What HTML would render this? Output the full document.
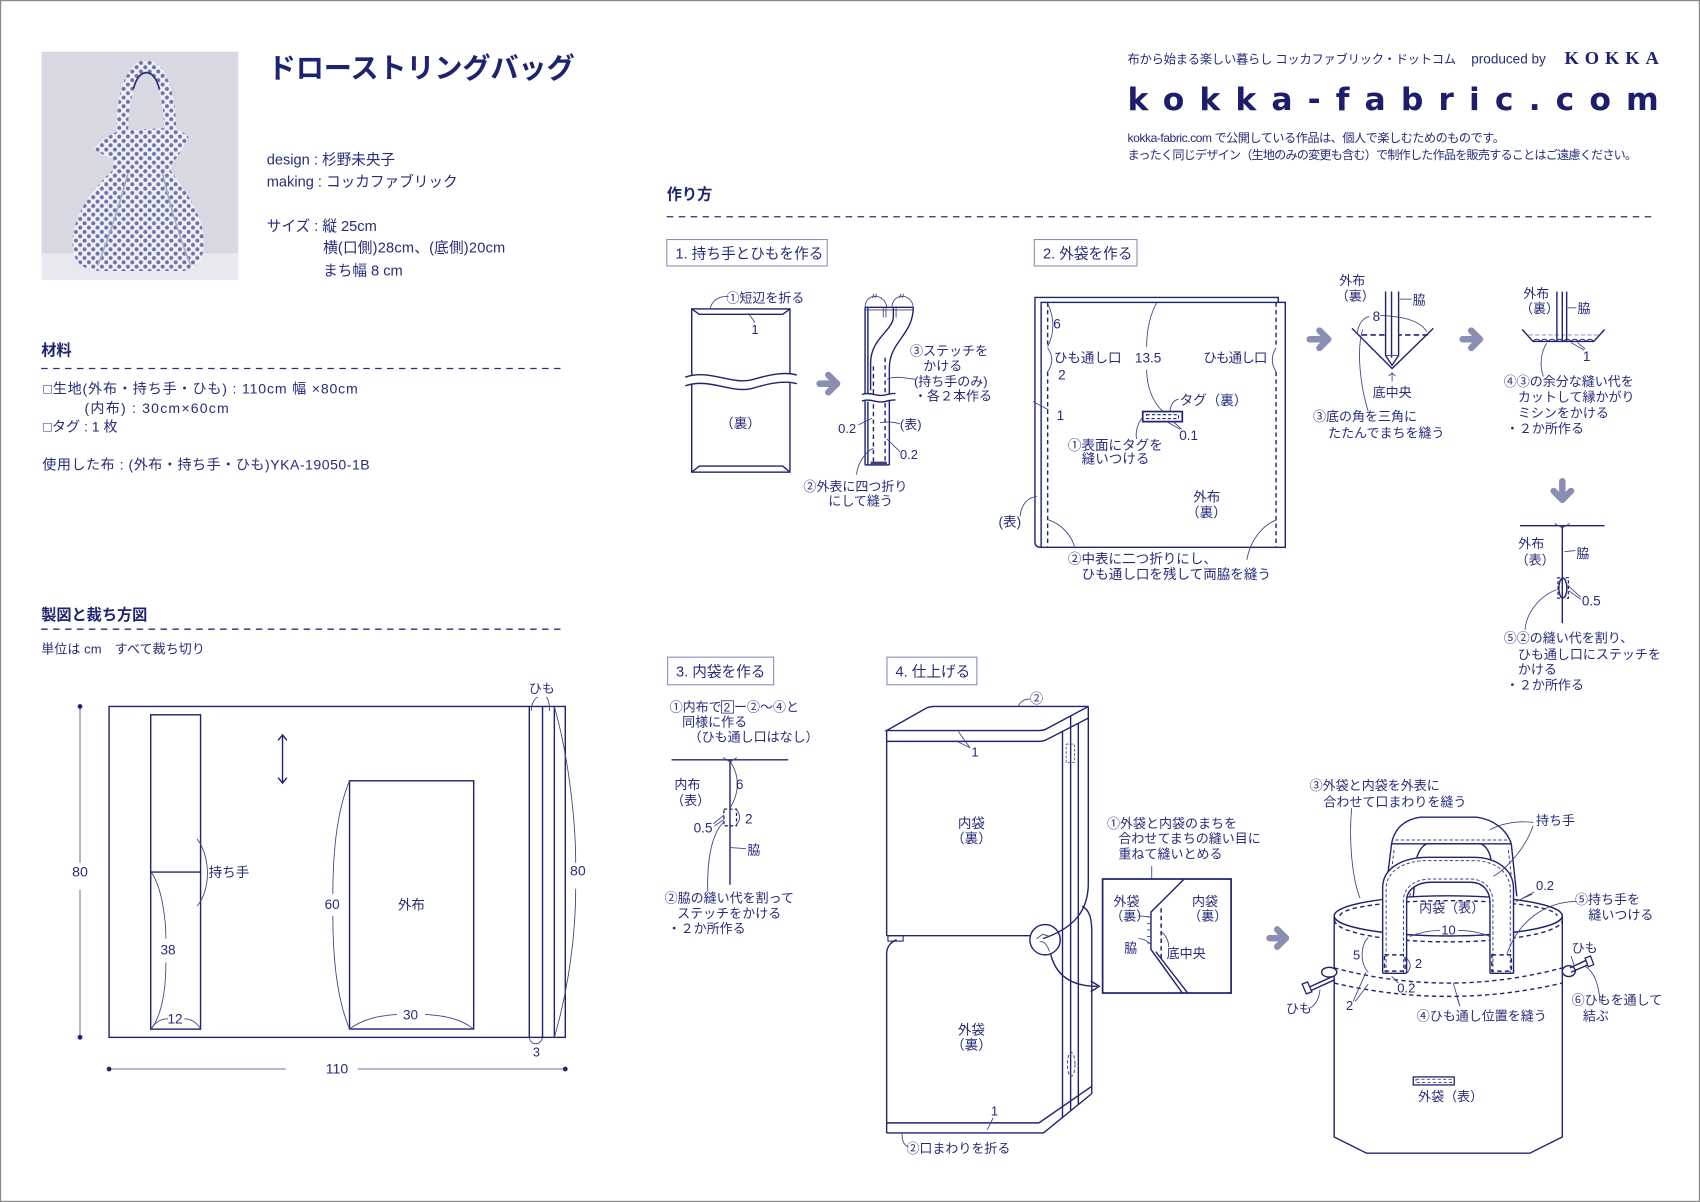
<!DOCTYPE html>
<html><head><meta charset="utf-8"><style>
html,body{margin:0;padding:0;background:#fff;}
svg{display:block;}
text{font-family:"Liberation Sans","Noto Sans CJK JP",sans-serif;fill:#272c7a;}
.b{font-weight:bold;fill:#1d2370;}
.ln{fill:none;stroke:#1f2470;stroke-width:1.3;}
.lt{fill:none;stroke:#3d4285;stroke-width:0.8;}
.ds{fill:none;stroke:#1f2470;stroke-width:1.3;stroke-dasharray:4 3;}
.dt{fill:none;stroke:#3d4285;stroke-width:0.9;stroke-dasharray:3 2;}
.dl{fill:none;stroke:#2a2f7a;stroke-width:1.2;stroke-dasharray:6 5;}
.ar{fill:none;stroke:#8a8eb2;stroke-width:6;stroke-linecap:round;stroke-linejoin:round;}
.bx{fill:#fff;stroke:#8a8eb2;stroke-width:1;}
.w{fill:#fff;}
</style></head><body>
<svg width="1700" height="1202" viewBox="0 0 1568 1109" preserveAspectRatio="none" xmlns="http://www.w3.org/2000/svg">
<defs>
<pattern id="dots" width="8" height="8" patternUnits="userSpaceOnUse">
<rect width="8" height="8" fill="#f0f1f6"/>
<circle cx="2" cy="2" r="1.9" fill="#6e74a9"/>
<circle cx="6" cy="6" r="1.9" fill="#6e74a9"/>
</pattern>
</defs>
<rect x="0.5" y="0.5" width="1567" height="1108" fill="#fff" stroke="#8a8a8a" stroke-width="1.2"/>

<!-- PHOTO -->
<rect x="38.4" y="47.7" width="181.4" height="210.6" fill="#d7d8e2"/>
<rect x="38.4" y="233.7" width="181.4" height="24.6" fill="#e8e9ef"/>
<path d="M113,130 C111,95 120,61 135,61 C150,61 158,95 157,130" fill="none" stroke="url(#dots)" stroke-width="11"/>
<path d="M123,82 C126,71 130,67 135,67 C140,67 144,71 147,82" fill="none" stroke="#2a2f7a" stroke-width="1.6"/>
<path d="M104,157 C88,172 68,196 67,222 C66,241 75,250 95,250 L166,250 C181,250 189,240 188,220 C186,195 168,172 157,157 Z" fill="url(#dots)"/>
<path d="M112,152 C100,144 92,141 86,138 C92,130 101,124 112,120 L160,118 C168,121 172,124 174,127 C168,138 163,146 157,153 Z" fill="url(#dots)"/>
<rect x="104" y="148" width="54" height="10" rx="4" fill="url(#dots)"/>
<path d="M118,160 C110,190 100,220 90,245 M150,160 C158,195 168,225 176,245" fill="none" stroke="#a9acc8" stroke-width="1.5"/>

<!-- TITLE & INFO -->
<text x="247" y="72" font-size="26" class="b" textLength="283">ドローストリングバッグ</text>
<text x="246" y="152" font-size="13.5">design : 杉野未央子</text>
<text x="246" y="172" font-size="13.5">making : コッカファブリック</text>
<text x="246" y="213" font-size="13.5">サイズ : 縦 25cm</text>
<text x="298" y="233" font-size="13.5" textLength="168">横(口側)28cm、(底側)20cm</text>
<text x="298" y="254" font-size="13.5">まち幅 8 cm</text>

<text x="38" y="328" font-size="14" class="b">材料</text>
<line x1="38" y1="340" x2="522" y2="340" class="dl"/>
<text x="40" y="363" font-size="13" textLength="290">□生地(外布・持ち手・ひも) : 110cm 幅 ×80cm</text>
<text x="78" y="381" font-size="13" textLength="133">(内布) : 30cm×60cm</text>
<text x="40" y="398" font-size="13">□タグ : 1 枚</text>
<text x="39" y="433" font-size="13" textLength="302">使用した布 : (外布・持ち手・ひも)YKA-19050-1B</text>

<text x="38" y="572" font-size="14" class="b">製図と裁ち方図</text>
<line x1="38" y1="580.5" x2="522" y2="580.5" class="dl"/>
<text x="38" y="603" font-size="12" textLength="151">単位は cm　すべて裁ち切り</text>

<!-- CUTTING LAYOUT -->
<rect x="100.6" y="651.8" width="420.8" height="305.3" class="ln"/>
<rect x="139" y="659.5" width="46" height="290" class="ln"/>
<line x1="139" y1="804.6" x2="185" y2="804.6" class="ln"/>
<rect x="322.4" y="720.4" width="114.5" height="229" class="ln"/>
<line x1="488.2" y1="651.8" x2="488.2" y2="957.1" class="ln"/>
<line x1="500.4" y1="651.8" x2="500.4" y2="957.1" class="ln"/>
<line x1="511.3" y1="651.8" x2="511.3" y2="957.1" class="ln"/>
<line x1="260.6" y1="678" x2="260.6" y2="722.5" class="ln"/>
<polyline points="256.6,683 260.6,678 264.6,683" class="ln"/>
<polyline points="256.6,717.5 260.6,722.5 264.6,717.5" class="ln"/>
<line x1="73.8" y1="651.8" x2="73.8" y2="796" stroke="#8a8eb2" stroke-width="1.2"/>
<line x1="73.8" y1="821" x2="73.8" y2="957.1" stroke="#8a8eb2" stroke-width="1.2"/>
<circle cx="73.8" cy="651.8" r="2.2" fill="#1f2470"/>
<circle cx="73.8" cy="957.1" r="2.2" fill="#1f2470"/>
<text x="73.8" y="808.6" font-size="13" text-anchor="middle">80</text>
<line x1="100.6" y1="986.3" x2="263.5" y2="986.3" stroke="#8a8eb2" stroke-width="1.2"/>
<line x1="330" y1="986.3" x2="521.4" y2="986.3" stroke="#8a8eb2" stroke-width="1.2"/>
<circle cx="100.6" cy="986.3" r="2.2" fill="#1f2470"/>
<circle cx="521.4" cy="986.3" r="2.2" fill="#1f2470"/>
<text x="310.8" y="990.5" font-size="13" text-anchor="middle">110</text>
<path d="M511.3,651.8 C525,700 531,760 531,796" class="lt"/>
<path d="M531,820 C531,860 525,910 511.3,957.1" class="lt"/>
<text x="533" y="808" font-size="13" text-anchor="middle">80</text>
<text x="499.7" y="639.5" font-size="12" text-anchor="middle">ひも</text>
<path d="M490,656 C490,646 496,643 496,643 M504,643 C506,646 507,650 507,656" class="lt"/>
<path d="M488.2,957 C489,965 499,965 500.4,957" class="lt"/>
<text x="494.7" y="974.6" font-size="12" text-anchor="middle">3</text>
<path d="M181.8,774 C194,790 195,820 181.8,836" class="lt"/>
<text x="192.4" y="809" font-size="12.5">持ち手</text>
<path d="M139.5,804.6 C150,820 153,850 153,866" class="lt"/>
<path d="M153,888 C153,910 150,935 139.5,949.4" class="lt"/>
<text x="148" y="880.8" font-size="12.5">38</text>
<path d="M139.5,949 C145,941 150,940 155,940 M170,940 C176,940 181,943 185,949" class="lt"/>
<text x="154.5" y="944.5" font-size="12.5">12</text>
<path d="M322.4,720.4 C310,750 307,790 307,825" class="lt"/>
<path d="M307,845 C307,880 310,920 322.4,949.4" class="lt"/>
<text x="299.4" y="838.7" font-size="12.5">60</text>
<text x="367" y="839" font-size="12.5">外布</text>
<path d="M322.4,949.4 C335,940 350,937 366,936 M392,936 C410,937 425,940 436.9,949.4" class="lt"/>
<text x="371.7" y="940.8" font-size="12.5">30</text>

<!-- HEADER RIGHT -->
<text x="1040" y="58.5" font-size="11.3" textLength="303">布から始まる楽しい暮らし コッカファブリック・ドットコム</text>
<text x="1357" y="58.5" font-size="12.5">produced by</text>
<text x="1443" y="59" font-size="17" font-weight="bold" style="font-family:'Liberation Serif',serif;fill:#1d2370" textLength="87">KOKKA</text>
<text x="1040" y="101.5" font-size="29" font-weight="bold" style="font-family:'DejaVu Sans',sans-serif;fill:#1c1d6b" textLength="490" lengthAdjust="spacing">kokka-fabric.com</text>
<text x="1040" y="131" font-size="11.2" textLength="348">kokka-fabric.com で公開している作品は、個人で楽しむためのものです。</text>
<text x="1040" y="146.5" font-size="11.2" textLength="470">まったく同じデザイン（生地のみの変更も含む）で制作した作品を販売することはご遠慮ください。</text>

<text x="615" y="184" font-size="14" class="b">作り方</text>
<line x1="615" y1="200" x2="1527" y2="200" class="dl"/>

<!-- STEP 1 -->
<rect x="615" y="221" width="148" height="24.4" class="bx"/>
<text x="623" y="238.5" font-size="13.5">1. 持ち手とひもを作る</text>
<rect x="638" y="285" width="90.6" height="150.6" class="ln w"/>
<path d="M638,285 L645,290 L722,290 L728.6,285" class="ln"/>
<path d="M638,435.6 L645,430 L722,430 L728.6,435.6" class="ln"/>
<path d="M632,348 C655,340 675,356 695,350 C712,345 725,343 735,346 L735,354 C725,351 712,353 695,358 C675,364 655,348 632,356 Z" fill="#fff"/>
<path d="M632,348 C655,340 675,356 695,350 C712,345 725,343 735,346" class="ln"/>
<path d="M632,356 C655,348 675,364 695,358 C712,353 725,351 735,354" class="ln"/>
<text x="683" y="395" font-size="12.5" text-anchor="middle">（裏）</text>
<text x="670" y="279" font-size="12">①短辺を折る</text>
<path d="M672,273.6 C662,273 657,278 655,284.4" class="lt"/>
<path d="M690.2,289 L696.4,297.6" class="lt"/>
<text x="696.4" y="308" font-size="12" text-anchor="middle">1</text>
<line x1="756" y1="354" x2="772" y2="354" class="ar"/>
<polyline points="764,346 772,354 764,362" class="ar"/>
<rect x="797.9" y="283.5" width="22.4" height="145.5" class="w"/>
<line x1="797.9" y1="283.5" x2="797.9" y2="429" class="ln"/>
<line x1="800.5" y1="283.5" x2="800.5" y2="429" class="ln"/>
<line x1="797.9" y1="283.5" x2="842.4" y2="283.5" class="ln"/>
<line x1="797.9" y1="286" x2="842" y2="286" class="lt"/>
<path d="M842.4,283.5 C842,310 820,315 820.3,340 L820.3,429" class="ln"/>
<path d="M824,283.5 L824,292 C824,305 803,312 803,335 L803,360" class="ln"/>
<path d="M814.7,284 L814.7,293 M817.2,284 L817.2,293 M826.5,284 L826.5,293" class="lt"/>
<line x1="797.9" y1="429" x2="820.3" y2="429" class="ln"/>
<rect x="803" y="425.9" width="15" height="3.1" fill="#3a3f80"/>
<line x1="805.6" y1="338" x2="805.6" y2="425.9" class="ds"/>
<line x1="816.4" y1="330" x2="816.4" y2="425.9" class="ds"/>
<path d="M795,364 C803,361 810,367 818,364 C822,363 824,363 826,363 L826,369 C822,369 818,370 810,372 C803,373 800,369 795,370 Z" fill="#fff"/>
<path d="M795,364 C803,361 810,367 818,364 C822,363 824,363 826,363" class="ln"/>
<path d="M795,370 C803,367 810,373 818,370 C822,369 824,369 826,369" class="ln"/>
<path d="M797.9,283.5 C798,270 816,270 818,283.5 M822.7,283.5 C823,270 841,270 842.4,283.5" class="lt"/>
<path d="M806,271 L804.5,275 M808.5,271 L807,275 M831,271 L829.5,275 M833.5,271 L832,275" class="lt"/>
<text x="839.4" y="328" font-size="12">③ステッチを</text>
<text x="851.6" y="342" font-size="12">かける</text>
<text x="843" y="356" font-size="12">(持ち手のみ)</text>
<text x="843" y="369.5" font-size="12">・各２本作る</text>
<path d="M844,350 C832,348 824,347 818,350" class="lt"/>
<text x="773" y="399.7" font-size="12">0.2</text>
<path d="M791.7,392 L804.3,385.9" class="lt"/>
<text x="830" y="396" font-size="12">(表)</text>
<path d="M830,391 C824,389 818,389 811.7,390" class="lt"/>
<text x="830" y="423.6" font-size="12">0.2</text>
<path d="M830,416.6 L818,405" class="lt"/>
<text x="741" y="453" font-size="12">②外表に四つ折り</text>
<text x="764" y="466.5" font-size="12">にして縫う</text>
<path d="M805.5,413.5 C797,418 791,428 790,438" class="lt"/>

<!-- STEP 2 -->
<rect x="954" y="221" width="94.7" height="24.4" class="bx"/>
<text x="962" y="238.5" font-size="13.5">2. 外袋を作る</text>
<path d="M1179,279 L1179,274.4 L954.6,274.4 L954.6,500 Q954.6,505 960,505" class="ln"/>
<rect x="960.3" y="279" width="225.2" height="226" class="ln w"/>
<line x1="966.3" y1="279" x2="966.3" y2="320" class="ds"/>
<line x1="966.3" y1="343" x2="966.3" y2="505" class="ds"/>
<line x1="1177" y1="279" x2="1177" y2="320" class="ds"/>
<line x1="1177" y1="343" x2="1177" y2="505" class="ds"/>
<path d="M966.3,280 Q976,300 966.3,320" class="lt"/>
<path d="M966.3,321 Q974,332 966.3,343" class="lt"/>
<path d="M1177,321 Q1170,332 1177,343" class="lt"/>
<text x="971.5" y="303" font-size="12.5">6</text>
<text x="972" y="334.5" font-size="12.5">ひも通し口</text>
<text x="976" y="350" font-size="12.5">2</text>
<path d="M1067,279 C1060,292 1057.6,305 1057.6,320" class="lt"/>
<path d="M1057.6,341 C1057.6,358 1064,372 1073,380" class="lt"/>
<text x="1046.8" y="334.5" font-size="12.5">13.5</text>
<text x="1110" y="334.5" font-size="12.5" textLength="59">ひも通し口</text>
<path d="M953,370.5 L967,378" class="lt"/>
<text x="974.6" y="387.4" font-size="12.5">1</text>
<rect x="1054" y="379.7" width="36.5" height="9.3" fill="#fff" stroke="#1f2470" stroke-width="1.6"/>
<rect x="1057.5" y="382.6" width="29.5" height="3.6" fill="none" stroke="#1f2470" stroke-width="1" stroke-dasharray="3 2"/>
<path d="M1079,379.7 C1080,372 1083,369 1087,368.3" class="lt"/>
<text x="1088" y="373.5" font-size="12.5">タグ（裏）</text>
<path d="M1076,389 L1088.4,396 M1082,389 L1090,396" class="lt"/>
<text x="1087.7" y="405.8" font-size="12.5">0.1</text>
<path d="M1054.5,384.3 C1049,390 1047,400 1048.4,405" class="lt"/>
<text x="985" y="415" font-size="12.5">①表面にタグを</text>
<text x="997.7" y="427.5" font-size="12.5">縫いつける</text>
<text x="1100.6" y="462.7" font-size="12.5">外布</text>
<text x="1094" y="477" font-size="12.5">（裏）</text>
<path d="M940.8,476.5 C942,465 948,459 956.2,458" class="lt"/>
<text x="921" y="486" font-size="12.5">(表)</text>
<path d="M967,479.6 C980,484 989,495 991.5,505.8" class="lt"/>
<path d="M1177.5,479.6 C1163,485 1153,500 1150,516.5" class="lt"/>
<text x="985" y="520" font-size="12.5">②中表に二つ折りにし、</text>
<text x="997.7" y="534" font-size="12.5">ひも通し口を残して両脇を縫う</text>

<line x1="1208" y1="313" x2="1225" y2="313" class="ar"/>
<polyline points="1217,305 1225,313 1217,321" class="ar"/>
<line x1="1349" y1="313" x2="1365" y2="313" class="ar"/>
<polyline points="1357,305 1365,313 1357,321" class="ar"/>
<line x1="1441" y1="444" x2="1441" y2="461" class="ar"/>
<polyline points="1433,453 1441,461 1449,453" class="ar"/>

<!-- corner 1 -->
<text x="1235.3" y="262.9" font-size="12">外布</text>
<text x="1232" y="277.3" font-size="12">（裏）</text>
<path d="M1247,303 L1284,340 L1322,303" class="ln"/>
<line x1="1256" y1="309" x2="1317" y2="309" stroke="#1f2470" stroke-width="1.5" stroke-dasharray="5 3"/>
<path d="M1278,269 L1278,328 L1284,337 L1290,328 L1290,269" class="ln w"/>
<line x1="1283.5" y1="269" x2="1283.5" y2="330" class="ln"/>
<line x1="1278" y1="328" x2="1290" y2="328" class="lt"/>
<path d="M1291,276 L1302,276" class="lt"/>
<text x="1303" y="281" font-size="12">脇</text>
<path d="M1252,307 C1253,298 1258,293 1263,292" class="lt"/>
<path d="M1273,291 C1295,292 1310,296 1316,306" class="lt"/>
<text x="1266" y="296" font-size="12.5">8</text>
<path d="M1284,352 L1284,344 M1281,347 L1284,344 L1287,347" class="lt"/>
<text x="1284" y="366.5" font-size="12" text-anchor="middle">底中央</text>
<path d="M1256.8,304 C1252,320 1253,350 1262,379.7" class="lt"/>
<text x="1211" y="388.5" font-size="12">③底の角を三角に</text>
<text x="1225" y="403.5" font-size="12">たたんでまちを縫う</text>

<!-- corner 2 -->
<text x="1405" y="275" font-size="12">外布</text>
<text x="1402" y="289" font-size="12">（裏）</text>
<path d="M1404,304 L1414,315 L1470,315 L1480,304" class="ln"/>
<line x1="1410" y1="309" x2="1475" y2="309" stroke="#9a9ec0" stroke-width="1" stroke-dasharray="4 2"/>
<path d="M1414,315 q3.5,-4 7,0 q3.5,-4 7,0 q3.5,-4 7,0 q3.5,-4 7,0 q3.5,-4 7,0 q3.5,-4 7,0 q3.5,-4 7,0 q3.5,-4 7,0" fill="none" stroke="#1f2470" stroke-width="1"/>
<line x1="1436" y1="269" x2="1436" y2="315" class="ln"/>
<line x1="1441" y1="269" x2="1441" y2="315" class="ln"/>
<line x1="1445" y1="269" x2="1445" y2="315" class="ln"/>
<path d="M1446,284 L1454,284" class="lt"/>
<text x="1455" y="289" font-size="12">脇</text>
<path d="M1449,316 L1461,323 M1455,316 L1462,322" class="lt"/>
<text x="1460" y="333" font-size="12.5">1</text>
<path d="M1426.6,316.7 C1421,325 1420,338 1423.5,347.4" class="lt"/>
<text x="1387" y="356" font-size="12">④③の余分な縫い代を</text>
<text x="1400" y="370.5" font-size="12">カットして縁かがり</text>
<text x="1400" y="385" font-size="12">ミシンをかける</text>
<text x="1389" y="399.5" font-size="12">・２か所作る</text>

<!-- step2 final -->
<line x1="1402" y1="485" x2="1480" y2="485" class="ln"/>
<line x1="1441" y1="485" x2="1441" y2="575" class="ln"/>
<path d="M1434,483 L1441,487 L1448,483" class="lt"/>
<text x="1400.4" y="505.7" font-size="12">外布</text>
<text x="1398" y="521" font-size="12">（表）</text>
<path d="M1443,509 L1453,508" class="lt"/>
<text x="1454" y="515" font-size="12">脇</text>
<ellipse cx="1441.5" cy="542.6" rx="3.7" ry="9.2" class="ln"/>
<path d="M1439,533 L1437,533 L1437,552 L1439,552 M1444,533 L1446.6,533 L1446.6,552 L1444,552" fill="none" stroke="#1f2470" stroke-width="1.1" stroke-dasharray="3 2"/>
<path d="M1446,540 L1458,551 M1447,545 L1458,553" class="lt"/>
<text x="1459" y="558.5" font-size="12.5">0.5</text>
<path d="M1435.8,544 C1420,550 1408,565 1406.6,581" class="lt"/>
<text x="1387" y="593" font-size="12">⑤②の縫い代を割り、</text>
<text x="1400" y="607.8" font-size="12">ひも通し口にステッチを</text>
<text x="1400" y="622" font-size="12">かける</text>
<text x="1389" y="636" font-size="12">・２か所作る</text>

<!-- STEP 3 -->
<rect x="615.8" y="606.3" width="97.8" height="25.5" class="bx"/>
<text x="623.5" y="624" font-size="13.5">3. 内袋を作る</text>
<text x="617.6" y="656.4" font-size="12">①内布で</text>
<rect x="665.5" y="646.5" width="11" height="11.5" fill="none" stroke="#3d4285" stroke-width="0.8"/>
<text x="667.5" y="656.4" font-size="11">2</text>
<text x="677" y="656.4" font-size="12">ー②～④と</text>
<text x="629.2" y="670.2" font-size="12">同様に作る</text>
<text x="635.2" y="684.1" font-size="12">（ひも通し口はなし）</text>
<line x1="619.4" y1="701" x2="727" y2="701" class="ln"/>
<line x1="673.3" y1="701" x2="673.3" y2="816.3" class="ln"/>
<path d="M667,699 L673.3,703 L679.6,699" class="lt"/>
<text x="622" y="728" font-size="12">内布</text>
<text x="619" y="742.5" font-size="12">（表）</text>
<path d="M673.3,702 Q687,723 673.3,745.6" class="lt"/>
<text x="678.7" y="728" font-size="12.5">6</text>
<rect x="667.7" y="746.5" width="11.6" height="15.4" fill="none" stroke="#1f2470" stroke-width="1.2" stroke-dasharray="3 2"/>
<path d="M679.3,747 Q685,754 679.3,761" class="lt"/>
<text x="687.2" y="760" font-size="12.5">2</text>
<path d="M658,760 L667.7,752 M659,762 L668,756" class="lt"/>
<text x="639.8" y="768" font-size="12.5">0.5</text>
<path d="M674,782 L688,783" class="lt"/>
<text x="689.3" y="788.6" font-size="12">脇</text>
<path d="M667,759 C656,770 652,795 652.8,822.5" class="lt"/>
<text x="613" y="832.6" font-size="12">②脇の縫い代を割って</text>
<text x="624.6" y="847" font-size="12">ステッチをかける</text>
<text x="615.8" y="861" font-size="12">・２か所作る</text>

<!-- STEP 4 -->
<rect x="818.1" y="606.3" width="82.9" height="25.5" class="bx"/>
<text x="826" y="624" font-size="13.5">4. 仕上げる</text>
<path d="M817.8,674 L855,653 Q858,651.8 862,651.8 L1003.8,651.8 L966,672 Q963,674 958,674 Z" class="ln w"/>
<path d="M817.8,684 L958,684 Q963,684 966,682 L1003.8,662.6" class="ln"/>
<line x1="1003.8" y1="651.8" x2="1003.8" y2="815" class="ln"/>
<line x1="817.8" y1="674" x2="817.8" y2="863.3" class="ln"/>
<line x1="980" y1="675" x2="980" y2="1031" class="ln"/>
<line x1="987.5" y1="660.5" x2="987.5" y2="1025" class="ln"/>
<line x1="994.6" y1="667.3" x2="994.6" y2="1019" class="ln"/>
<rect x="983.4" y="686.5" width="7.6" height="16.9" fill="none" stroke="#5a5f95" stroke-width="0.9" stroke-dasharray="2.5 1.5"/>
<path d="M939,652 C941,647 945,645 950,645" class="lt"/>
<text x="950" y="648.5" font-size="12">②</text>
<path d="M884,675 L894.7,690 M884,684.6 L894.7,690" class="lt"/>
<text x="896" y="698" font-size="12">1</text>
<text x="896" y="764" font-size="12.5" text-anchor="middle">内袋</text>
<text x="896" y="778" font-size="12.5" text-anchor="middle">（裏）</text>
<line x1="817.8" y1="863.3" x2="950" y2="863.3" class="ln"/>
<rect x="819" y="863.3" width="14" height="5" fill="none" stroke="#1f2470" stroke-width="1"/>
<path d="M827,867 C820,870 817.8,875 817.8,880 L817.8,1045.3" class="ln"/>
<path d="M1003.8,815 C1003.8,845 985,858 962,866" class="ln"/>
<path d="M998,836 C1006,840 1007,850 1007,860 L1007,1009" class="ln"/>
<circle cx="963.9" cy="867" r="14" class="ln"/>
<path d="M956,866 L962,862 L968,864 M959,869 C963,868 966,872 968,878" class="lt"/>
<path d="M969,880 C975,905 995,910 1012,910" class="ln"/>
<polyline points="1006,905 1014,910 1006,915" class="ln"/>
<ellipse cx="988" cy="982" rx="3.5" ry="11" class="dt"/>
<path d="M817.8,1045.3 L962.5,1045.3 L1007,1009" class="ln"/>
<path d="M817.8,1036 L958.3,1036 L1007,1002.3" class="ln"/>
<text x="896" y="954.6" font-size="12.5" text-anchor="middle">外袋</text>
<text x="896" y="968.5" font-size="12.5" text-anchor="middle">（裏）</text>
<path d="M910.6,1042.3 L916,1031.5" class="lt"/>
<text x="914" y="1029" font-size="12">1</text>
<path d="M832,1046 C832,1053 834,1057 838,1058" class="lt"/>
<text x="836" y="1064" font-size="12">②口まわりを折る</text>
<text x="1021" y="764" font-size="12">①外袋と内袋のまちを</text>
<text x="1031.6" y="778" font-size="12">合わせてまちの縫い目に</text>
<text x="1031.6" y="792.3" font-size="12">重ねて縫いとめる</text>
<line x1="1062.3" y1="799" x2="1062.3" y2="811" class="lt"/>
<rect x="1017" y="811" width="118.5" height="105.2" fill="#fff" stroke="#1f2470" stroke-width="1.6"/>
<path d="M1092.3,811 L1061.6,841.5 L1061.6,876 L1090.6,916.2" class="ln"/>
<path d="M1066,878 L1095.5,916.2" class="ln"/>
<path d="M1058,846 L1061.6,846 M1058,852 L1061.6,852 M1058,858 L1061.6,858 M1058,864 L1061.6,864 M1058,870 L1061.6,870" class="lt"/>
<line x1="1071" y1="838" x2="1071" y2="886" stroke="#1f2470" stroke-width="1.4" stroke-dasharray="4 3"/>
<text x="1027" y="835.7" font-size="12">外袋</text>
<text x="1024" y="849.2" font-size="12">（裏）</text>
<path d="M1050,845 L1061,846" class="lt"/>
<text x="1099.5" y="835.7" font-size="12">内袋</text>
<text x="1096" y="849.2" font-size="12">（裏）</text>
<text x="1037" y="878.7" font-size="12">脇</text>
<path d="M1050,866 C1055,866 1058,868 1061,871" class="lt"/>
<text x="1076" y="884" font-size="12">底中央</text>
<path d="M1071,860 C1075,862 1078,868 1078,874" class="lt"/>

<line x1="1171" y1="865.5" x2="1186" y2="865.5" class="ar"/>
<polyline points="1178,857.5 1186,865.5 1178,873.5" class="ar"/>

<!-- FINAL BAG -->
<path d="M1277.5,827 L1283.6,778 C1286,765 1295,756 1310,754 L1362,754 C1377,756 1390,765 1394,779 L1399,827 L1378,827 L1375,792 C1374,786 1370,780 1366,778.5 L1316,778.5 C1312,780 1308,786 1306.7,792 L1303.6,827 Z" fill="#fff"/>
<path d="M1277.5,827 L1283.6,778 C1286,765 1295,756 1310,754 L1362,754 C1377,756 1390,765 1394,779 L1399,827" class="ln"/>
<path d="M1303.6,827 L1306.7,792 C1308,786 1312,780 1316,778.5 L1366,778.5 C1370,780 1374,786 1375,792 L1378,827" class="ln"/>
<line x1="1284" y1="778.5" x2="1394" y2="778.5" class="ln"/>
<line x1="1287" y1="775" x2="1391" y2="775" class="dt"/>
<path d="M1281,827 L1286,782 M1300.5,827 L1303,792 M1381,827 L1378,792 M1396,827 L1391,782" class="dt"/>
<path d="M1230.6,845 A105.2,18.5 0 0 0 1441,845 L1441,1049 L1411,1064 L1260.5,1064 L1230.6,1049 Z" class="ln w"/>
<ellipse cx="1335.8" cy="845" rx="105.2" ry="18.5" class="ln w"/>
<path d="M1236,845 A100,14 0 0 1 1436,845" class="ds"/>
<path d="M1231,849 A105,20 0 0 0 1441,849" class="ds"/>
<path d="M1230.6,893 Q1336,921 1441,893" class="ds"/>
<path d="M1230.6,907 Q1336,931.6 1441,907" class="ds"/>
<text x="1309" y="842" font-size="12">内袋（表）</text>
<path fill-rule="evenodd" fill="#fff" d="M1275.3,898 L1275.3,818 C1276,800 1295,791 1317,791 L1359,791 C1380,791 1396,802 1396,820 L1396,898 Z M1297.4,898 L1297.4,830 C1298,820 1308,814 1320,814 L1356,814 C1368,814 1374,822 1374.3,832 L1374.3,898 Z"/>
<path d="M1275.3,898 L1275.3,818 C1276,800 1295,791 1317,791 L1359,791 C1380,791 1396,802 1396,820 L1396,898" class="ln"/>
<path d="M1297.4,898 L1297.4,830 C1298,820 1308,814 1320,814 L1356,814 C1368,814 1374,822 1374.3,832 L1374.3,898" class="ln"/>
<path d="M1278.5,898 L1278.5,819 C1279,803 1296,794 1317,794 L1359,794 C1378,794 1393,804 1393,821 L1393,898" class="dt"/>
<path d="M1294.5,898 L1294.5,830 C1295,818 1306,811 1320,811 L1356,811 C1369,811 1377,820 1377,832 L1377,898" class="dt"/>
<line x1="1275.3" y1="898" x2="1297.4" y2="898" class="ln"/>
<line x1="1374.3" y1="898" x2="1396" y2="898" class="ln"/>
<rect x="1277" y="881" width="19" height="15" class="ds"/>
<rect x="1376" y="881" width="18" height="15" class="ds"/>
<rect x="1303.5" y="993.6" width="37.8" height="7.4" fill="#fff" stroke="#1f2470" stroke-width="1.2"/>
<rect x="1306" y="995.8" width="32.8" height="3" class="dt"/>
<text x="1308" y="1016" font-size="12">外袋（表）</text>
<ellipse cx="1226" cy="897" rx="7" ry="4.5" class="ln w"/>
<path d="M1229,901 L1207,911 M1231,904 L1209,914" class="ln"/>
<path d="M1201,908 L1206,906 L1210,915 L1205,917 Z" fill="#fff" stroke="#1f2470" stroke-width="1.2"/>
<ellipse cx="1447" cy="896" rx="6" ry="5" class="ln w"/>
<path d="M1448,893 L1463,886 M1449,897 L1465,890" class="ln"/>
<path d="M1462,884 L1467,882 L1470,890 L1465,892 Z" fill="#fff" stroke="#1f2470" stroke-width="1.2"/>
<text x="1208" y="729" font-size="12">③外袋と内袋を外表に</text>
<text x="1220.6" y="744" font-size="12">合わせて口まわりを縫う</text>
<path d="M1246.7,745.6 C1244,775 1247,810 1254.4,828.6" class="lt"/>
<text x="1416.7" y="761" font-size="12">持ち手</text>
<path d="M1414.3,758.8 C1398,757 1385,760 1374.3,765.5" class="lt"/>
<path d="M1414,762 C1408,780 1392,800 1377.4,808.6" class="lt"/>
<text x="1416.7" y="821" font-size="12">0.2</text>
<path d="M1415,823 L1404,829 M1413,825 L1398,832" class="lt"/>
<text x="1452.7" y="834" font-size="12">⑤持ち手を</text>
<text x="1465" y="848.5" font-size="12">縫いつける</text>
<path d="M1454.2,831.7 C1425,832 1400,850 1389.7,880.8" class="lt"/>
<path d="M1300.5,864 C1310,860 1318,858.5 1328,858.4 M1345,858.4 C1356,858.5 1365,860 1374,864" class="lt"/>
<text x="1336" y="862" font-size="12" text-anchor="middle">10</text>
<path d="M1262,865 C1255,872 1254,888 1262,897" class="lt"/>
<text x="1248" y="885.5" font-size="12">5</text>
<path d="M1297.4,884 Q1304,891 1297.4,898" class="lt"/>
<text x="1305" y="893" font-size="12">2</text>
<path d="M1283.6,900.8 L1289.7,907" class="lt"/>
<text x="1288.8" y="915.6" font-size="12">0.2</text>
<path d="M1260,897 L1248,924 M1262,908 L1250,924" class="lt"/>
<text x="1241.5" y="932" font-size="12">2</text>
<text x="1186" y="934.6" font-size="12">ひも</text>
<path d="M1208.3,930 C1214,927 1217,920 1217.5,913" class="lt"/>
<text x="1449.6" y="878.7" font-size="12">ひも</text>
<path d="M1449,882 L1452,891" class="lt"/>
<path d="M1340.5,907 L1346.6,928.5 M1343.6,919.3 L1346.6,928.5" class="lt"/>
<text x="1306.7" y="941.4" font-size="12">④ひも通し位置を縫う</text>
<path d="M1475.8,925.4 C1475,908 1470,896 1461.9,891.5" class="lt"/>
<text x="1449.6" y="927" font-size="12">⑥ひもを通して</text>
<text x="1460" y="941.4" font-size="12">結ぶ</text>
</svg>
</body></html>
